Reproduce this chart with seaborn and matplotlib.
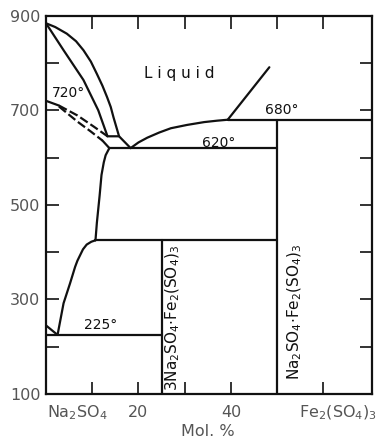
import matplotlib
matplotlib.use("Agg")
import matplotlib.pyplot as plt
import seaborn as sns
import pandas as pd

sns.set_theme(style="ticks")
plt.rcParams["font.family"] = ["DejaVu Sans"]

# Phase boundaries of the Na2SO4 - Fe2(SO4)3 system (mol.% Fe2(SO4)3, deg C)
liquidus_x = [0, 2.0, 4.5, 6.5, 8.1, 9.7, 11.0, 12.2, 13.2, 14.0, 14.6, 15.2, 15.8]
liquidus_y = [884, 876, 862, 846, 827, 803, 777, 752, 728, 707, 685, 665, 645]
solidus_x = [0, 3.8, 8.1, 11.3, 13.3]
solidus_y = [884, 827, 764, 700, 645]
peritectic_x = [13.3, 15.8, 18.3]
peritectic_y = [645, 645, 620]
liquidus2_x = [18.3, 20.0, 21.9, 24.5, 27.0, 30.5, 34.2, 37.0, 39.3]
liquidus2_y = [620, 632, 642, 653, 662, 669, 675, 678, 680]
upper_x = [39.3, 48.3]
upper_y = [680, 791]
solvus_x = [13.7, 12.9, 12.5, 12.0, 11.6, 11.0, 10.7]
solvus_y = [620, 605, 590, 563, 520, 462, 425]
low_x = [10.7, 9.8, 8.8, 8.0, 7.4, 6.8, 6.3, 5.2, 3.8, 2.5]
low_y = [425, 422, 416, 406, 394, 382, 369, 334, 292, 225]
corner_x = [0, 2.5]
corner_y = [245, 225]

# Transition near 720 deg (partly dashed)
trans_solid_x = [0, 2.8]
trans_solid_y = [720, 710]
trans_up_x = [2.8, 6.8, 10.4, 13.3]
trans_up_y = [710, 689, 665, 645]
trans_low_x = [2.8, 6.8, 9.7, 12.2]
trans_low_y = [708, 676, 655, 636]
trans_tail_x = [12.2, 13.7]
trans_tail_y = [636, 620]

# Isotherms: (temperature, x start, x end)
isotherm_t = [680, 620, 425, 225]
isotherm_x0 = [39.3, 13.7, 10.7, 0]
isotherm_x1 = [70.5, 50, 50, 25]

# Compounds: (composition, top temperature)
compound_x = [25, 50]
compound_top = [425, 680]
compound_labels = [r"3Na$_2$SO$_4$$\cdot$Fe$_2$(SO$_4$)$_3$",
                   r"Na$_2$SO$_4$$\cdot$Fe$_2$(SO$_4$)$_3$"]

temp_labels = ["720°", "680°", "620°", "225°"]

fig = plt.figure(figsize=(3.78, 4.41), dpi=100)
ax = fig.add_axes([46 / 378, 1 - 394 / 441, 326 / 378, (394 - 15.7) / 441])

LW = 1.6
INK = "#111111"
GREY = "#555555"


def curve(xs, ys, **kw):
    df = pd.DataFrame({"x": xs, "y": ys})
    sns.lineplot(data=df, x="x", y="y", sort=False, estimator=None, ax=ax,
                 color=INK, lw=LW, **kw)


for xs, ys in [(liquidus_x, liquidus_y), (solidus_x, solidus_y),
               (peritectic_x, peritectic_y), (liquidus2_x, liquidus2_y),
               (upper_x, upper_y), (solvus_x, solvus_y), (low_x, low_y),
               (corner_x, corner_y), (trans_solid_x, trans_solid_y),
               (trans_tail_x, trans_tail_y)]:
    curve(xs, ys)

curve(trans_up_x, trans_up_y, linestyle=(0, (4, 1.5)))
curve(trans_low_x, trans_low_y, linestyle=(0, (4, 1.5)))

for t, x0, x1 in zip(isotherm_t, isotherm_x0, isotherm_x1):
    curve([x0, x1], [t, t])

for cx, top in zip(compound_x, compound_top):
    curve([cx, cx], [top, 100])

ax.set_xlim(0, 70.5)
ax.set_ylim(100, 900)
ax.set_xlabel("")
ax.set_ylabel("")

for s in ax.spines.values():
    s.set_visible(True)
    s.set_linewidth(1.6)
    s.set_color(INK)

ax.set_yticks(range(100, 901, 100))
ax.set_yticklabels([str(v) if v % 200 == 100 else "" for v in range(100, 901, 100)])
ax.set_xticks([10, 20, 30, 40, 50, 60])
ax.set_xticklabels(["", "20", "", "40", "", ""])
ax.tick_params(axis="both", direction="in", length=9, width=1.2, color=INK,
               labelsize=11.5, labelcolor=GREY, top=True, right=True)
ax.tick_params(axis="y", pad=4)
ax.tick_params(axis="x", pad=8)

# Region and isotherm labels
ax.text(28.9, 777, "L i q u i d", fontsize=11, color=INK, ha="center", va="center")
ax.text(1.2, 736, temp_labels[0], fontsize=10, color=INK, ha="left", va="center")
ax.text(51.0, 701, temp_labels[1], fontsize=10, color=INK, ha="center", va="center")
ax.text(37.3, 631, temp_labels[2], fontsize=10, color=INK, ha="center", va="center")
ax.text(11.8, 246, temp_labels[3], fontsize=10, color=INK, ha="center", va="center")

ax.text(27.4, 261, compound_labels[0], fontsize=11, color=INK, rotation=90,
        ha="center", va="center")
ax.text(53.9, 274, compound_labels[1], fontsize=11, color=INK, rotation=90,
        ha="center", va="center")

# Axis end members and composition label
ax.text(6.9, -0.05, r"Na$_2$SO$_4$", transform=ax.get_xaxis_transform(),
        fontsize=11.5, color=GREY, ha="center", va="center")
ax.text(63.1, -0.05, r"Fe$_2$(SO$_4$)$_3$", transform=ax.get_xaxis_transform(),
        fontsize=11.5, color=GREY, ha="center", va="center")
ax.text(35, -0.1, "Mol. %", transform=ax.get_xaxis_transform(),
        fontsize=11.5, color=GREY, ha="center", va="center")

fig.savefig("out.png", dpi=100, facecolor="white")
